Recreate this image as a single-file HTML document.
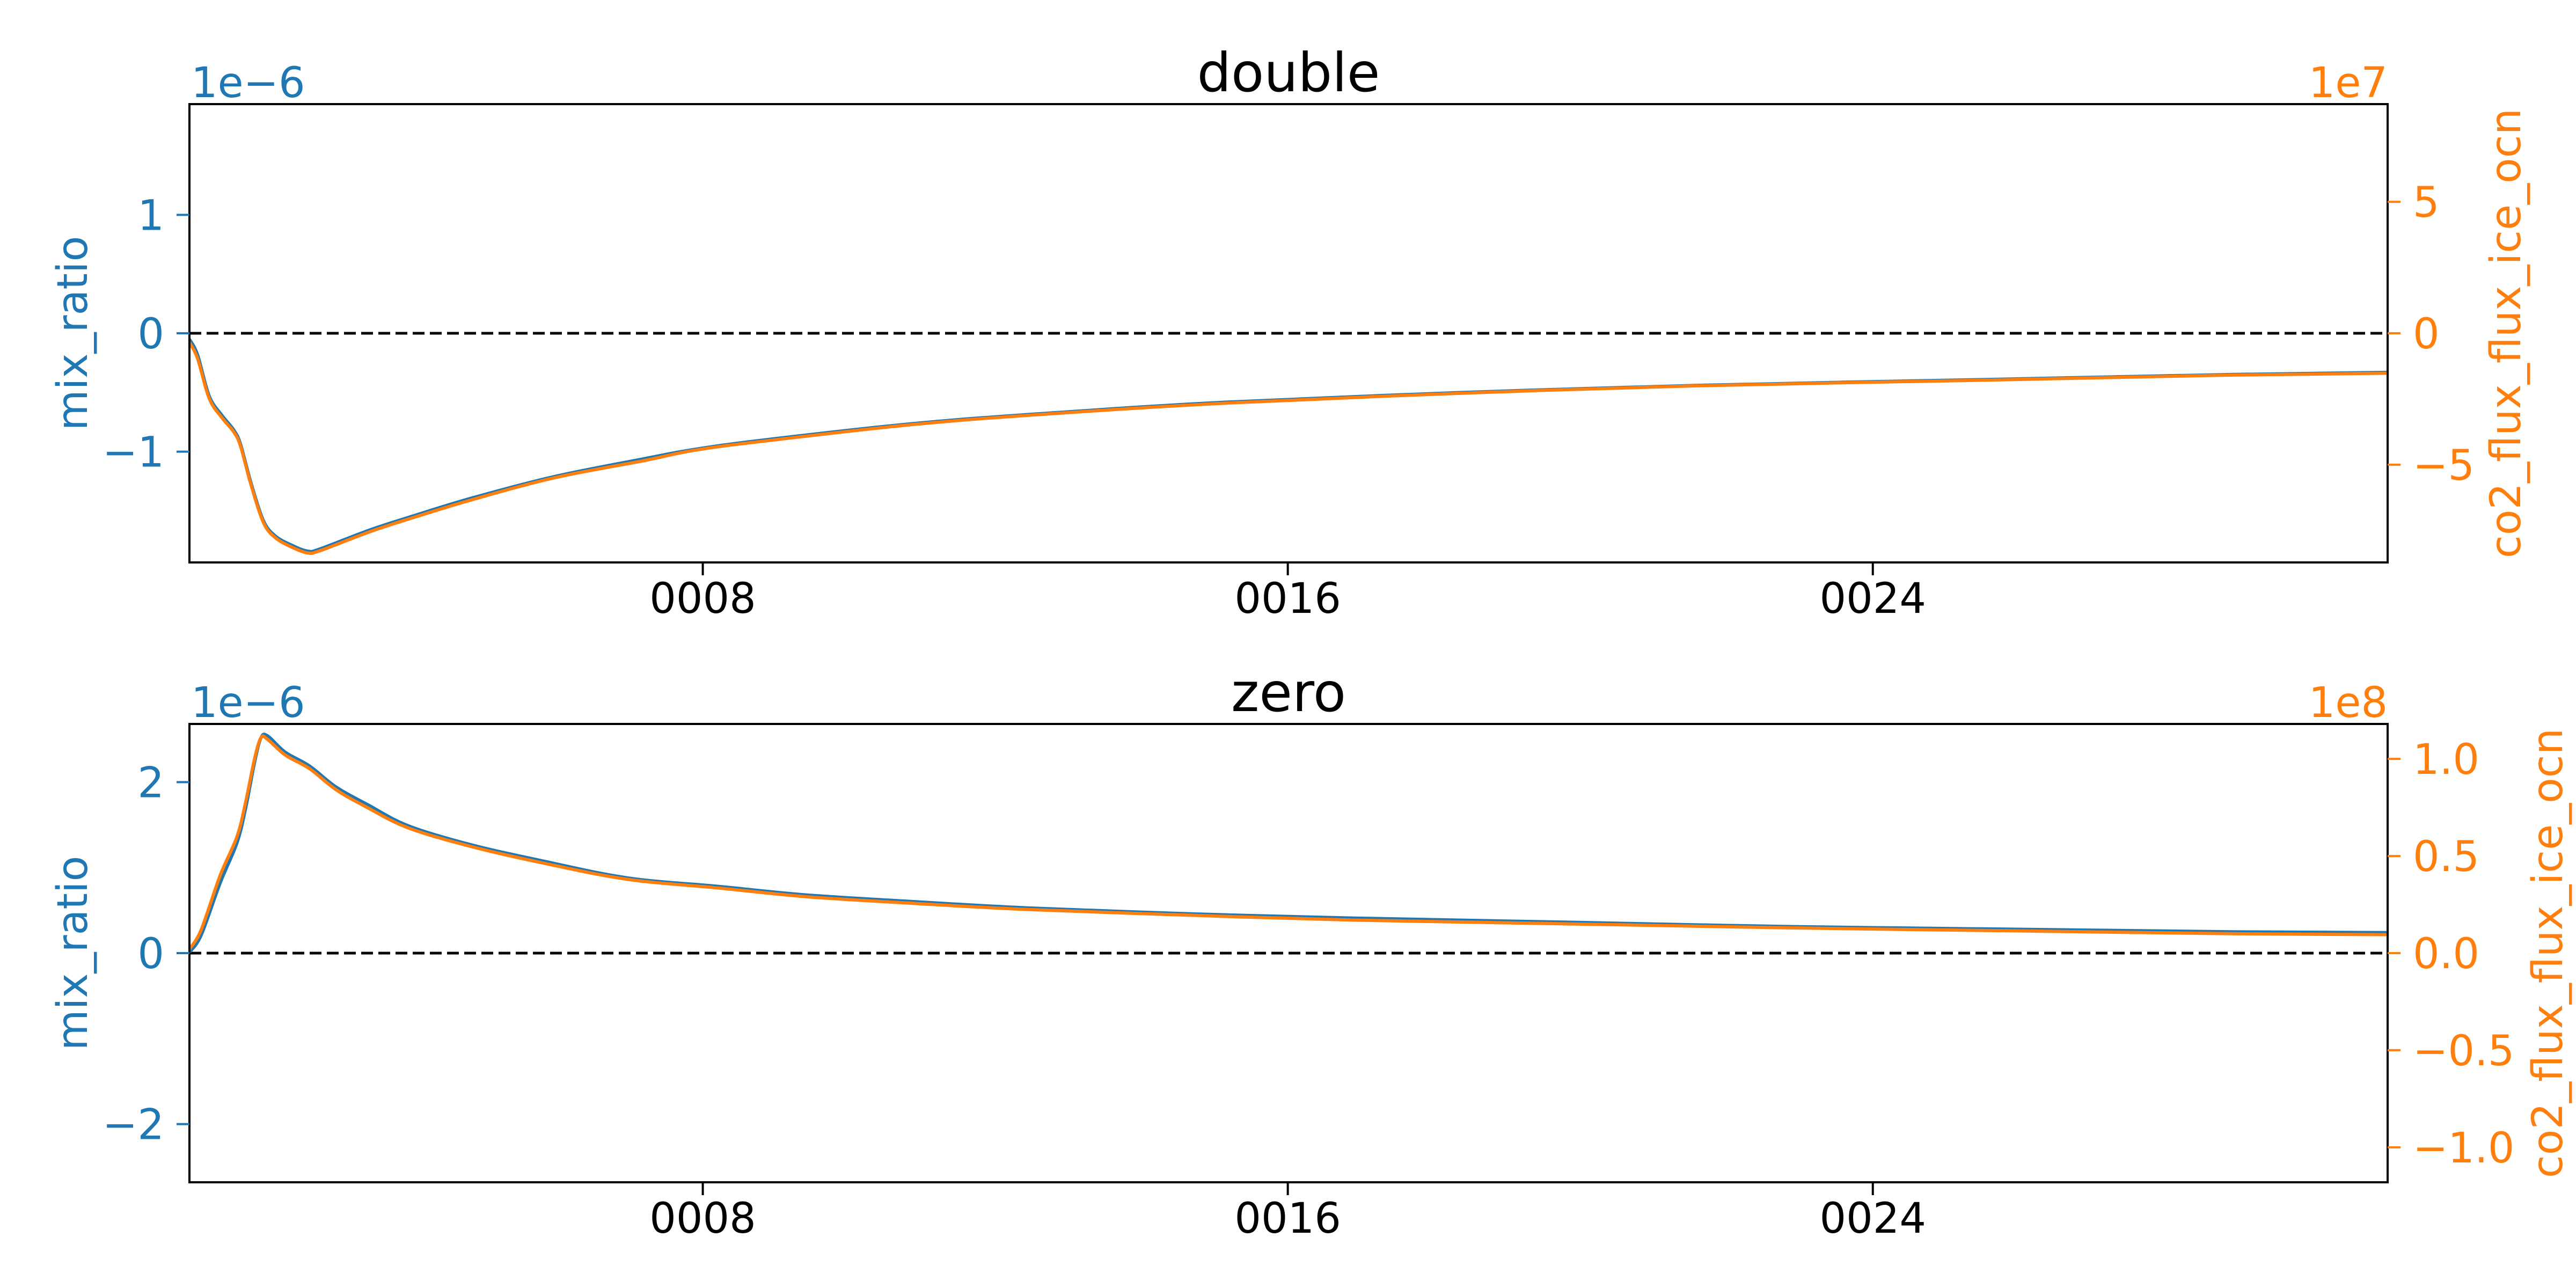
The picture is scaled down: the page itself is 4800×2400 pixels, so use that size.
<!DOCTYPE html>
<html><head><meta charset="utf-8"><style>
html,body{margin:0;padding:0;background:#fff;}
svg{display:block;font-family:"DejaVu Sans","Liberation Sans",sans-serif;}
</style></head><body>
<svg id="fig" width="4800" height="2400" viewBox="0 0 4800 2400" xmlns="http://www.w3.org/2000/svg">
<rect width="4800" height="2400" fill="#fff"/>
</svg>
<script>
// ---- data ----
const xTickVals = [8, 16, 24];
const xTickLabels = ["0008", "0016", "0024"];
const topX = [0.98,1.09,1.25,1.42,1.59,1.68,1.82,1.99,2.15,2.38,2.60,2.77,3.45,4.00,4.85,5.97,7.19,7.89,8.85,10.92,12.83,15.22,18.40,21.59,25.57,28.75,31.04];
const topMix = [-0.05,-0.18,-0.53,-0.69,-0.82,-0.94,-1.26,-1.58,-1.71,-1.79,-1.84,-1.82,-1.66,-1.55,-1.39,-1.21,-1.06,-0.98,-0.90,-0.76,-0.67,-0.58,-0.50,-0.44,-0.39,-0.35,-0.33];
const topFlux = [-0.35,-0.95,-2.48,-3.2,-3.77,-4.31,-5.75,-7.19,-7.77,-8.14,-8.36,-8.27,-7.55,-7.05,-6.33,-5.5,-4.85,-4.45,-4.1,-3.46,-3.05,-2.65,-2.28,-2.0,-1.78,-1.6,-1.52];
const botX = [0.98,1.14,1.40,1.63,1.75,1.87,1.96,2.05,2.29,2.62,2.99,3.41,3.97,4.82,5.80,6.97,8.22,9.43,10.93,12.42,14.67,16.91,19.92,22.91,25.90,28.90,31.04];
const botMix = [0.01,0.21,0.82,1.29,1.70,2.23,2.52,2.54,2.35,2.19,1.94,1.74,1.49,1.27,1.08,0.88,0.78,0.68,0.60,0.53,0.46,0.41,0.36,0.31,0.28,0.25,0.24];
const botFlux = [0.02,0.12,0.40,0.60,0.78,1.0,1.11,1.10,1.02,0.95,0.84,0.75,0.645,0.55,0.465,0.38,0.335,0.29,0.255,0.225,0.195,0.17,0.15,0.13,0.115,0.10,0.095];
const topLeftTicks = [-1, 0, 1];
const topRightTicks = [-5, 0, 5];
const botLeftTicks = [-2, 0, 2];
const botRightTicks = [-1.0, -0.5, 0.0, 0.5, 1.0];

const NS = "http://www.w3.org/2000/svg";
const svg = document.getElementById("fig");
const BLUE = "#1f77b4", ORANGE = "#ff7f0e";
const XL = 353, XR = 4449, XMIN = 0.98, XMAX = 31.04;
function sx(v){ return XL + (v - XMIN) / (XMAX - XMIN) * (XR - XL); }
function mk(tag, attrs, parent){
  const e = document.createElementNS(NS, tag);
  for (const k in attrs) e.setAttribute(k, attrs[k]);
  (parent || svg).appendChild(e);
  return e;
}
function fmtMinus(s){ return String(s).replace("-", "\u2212"); }
function smoothPath(pts){
  let d = "M" + pts[0][0].toFixed(1) + "," + pts[0][1].toFixed(1);
  for (let i = 0; i < pts.length - 1; i++){
    const p0 = pts[Math.max(0, i - 1)], p1 = pts[i], p2 = pts[i + 1], p3 = pts[Math.min(pts.length - 1, i + 2)];
    const c1x = p1[0] + (p2[0] - p0[0]) / 6, c1y = p1[1] + (p2[1] - p0[1]) / 6;
    const c2x = p2[0] - (p3[0] - p1[0]) / 6, c2y = p2[1] - (p3[1] - p1[1]) / 6;
    d += " C" + c1x.toFixed(1) + "," + c1y.toFixed(1) + " " + c2x.toFixed(1) + "," + c2y.toFixed(1) + " " + p2[0].toFixed(1) + "," + p2[1].toFixed(1);
  }
  return d;
}

function panel(cfg){
  const g = mk("g", {});
  
  
  const T = cfg.top, B = cfg.bottom;
  const ly = v => T + (cfg.lmax - v) / (2 * cfg.lmax) * (B - T);
  const ry = v => T + (cfg.rmax - v) / (2 * cfg.rmax) * (B - T);
  const z = mk("line", {x1: XL, x2: XR, y1: ly(0), y2: ly(0), stroke: "#000", "stroke-width": 5, "stroke-dasharray": "22 10"}, g);
  
  
  const pb = cfg.x.map((x, i) => [sx(x), ly(cfg.mix[i])]);
  const lb = mk("path", {d: smoothPath(pb), fill: "none", stroke: BLUE, "stroke-width": 6, "stroke-linejoin": "round"}, g);
  
  
  const po = cfg.x.map((x, i) => [sx(x), ry(cfg.flux[i])]);
  const lo = mk("path", {d: smoothPath(po), fill: "none", stroke: ORANGE, "stroke-width": 6, "stroke-linejoin": "round"}, g);
  
  
  const fr = mk("rect", {x: XL, y: T, width: XR - XL, height: B - T, fill: "none", stroke: "#000", "stroke-width": 4}, g);
  
  
  xTickVals.forEach((v, i) => {
    const x = sx(v);
    mk("line", {x1: x, x2: x, y1: B, y2: B + 24, stroke: "#000", "stroke-width": 4}, g);
    const t = mk("text", {x: x, y: B + 94, "text-anchor": "middle", "font-size": 78, fill: "#000"}, g);
    t.textContent = xTickLabels[i];
    
    
  });
  cfg.lt.forEach(v => {
    const y = ly(v);
    mk("line", {x1: XL - 24, x2: XL, y1: y, y2: y, stroke: BLUE, "stroke-width": 4}, g);
    const t = mk("text", {x: 306, y: y + 28, "text-anchor": "end", "font-size": 78, fill: BLUE}, g);
    t.textContent = fmtMinus(v);
    
    
  });
  cfg.rt.forEach(v => {
    const y = ry(v);
    mk("line", {x1: XR, x2: XR + 24, y1: y, y2: y, stroke: ORANGE, "stroke-width": 4}, g);
    const t = mk("text", {x: 4496, y: y + 28, "text-anchor": "start", "font-size": 78, fill: ORANGE}, g);
    t.textContent = fmtMinus(cfg.rfmt(v));
    
    
  });
  const ol = mk("text", {x: 356, y: T - 13, "font-size": 78, fill: BLUE}, g);
  ol.textContent = "1e\u22126";
  
  
  const or = mk("text", {x: XR, y: T - 13, "text-anchor": "end", "font-size": 78, fill: ORANGE}, g);
  or.textContent = cfg.roff;
  
  
  const tt = mk("text", {x: (XL + XR) / 2, y: T - 24, "text-anchor": "middle", "font-size": 100, fill: "#000"}, g);
  tt.textContent = cfg.title;
  
  
  const cy = (T + B) / 2;
  const yl = mk("text", {x: 0, y: 0, transform: "translate(162," + cy + ") rotate(-90)", "text-anchor": "middle", "font-size": 78, fill: BLUE}, g);
  yl.textContent = "mix_ratio";
  
  
  const yr = mk("text", {x: 0, y: 0, transform: "translate(" + cfg.rlabelX + "," + cy + ") rotate(-90)", "text-anchor": "middle", "font-size": 78, fill: ORANGE}, g);
  yr.textContent = "co2_flux_flux_ice_ocn";
  
  
}

panel({name: "double", title: "double", top: 194, bottom: 1048, lmax: 1.935, rmax: 8.72,
  x: topX, mix: topMix, flux: topFlux, lt: topLeftTicks, rt: topRightTicks, roff: "1e7", rfmt: v => String(v), rlabelX: 4696});
panel({name: "zero", title: "zero", top: 1349, bottom: 2203, lmax: 2.68, rmax: 1.18,
  x: botX, mix: botMix, flux: botFlux, lt: botLeftTicks, rt: botRightTicks, roff: "1e8", rfmt: v => v.toFixed(1), rlabelX: 4774});
</script>
</body></html>
